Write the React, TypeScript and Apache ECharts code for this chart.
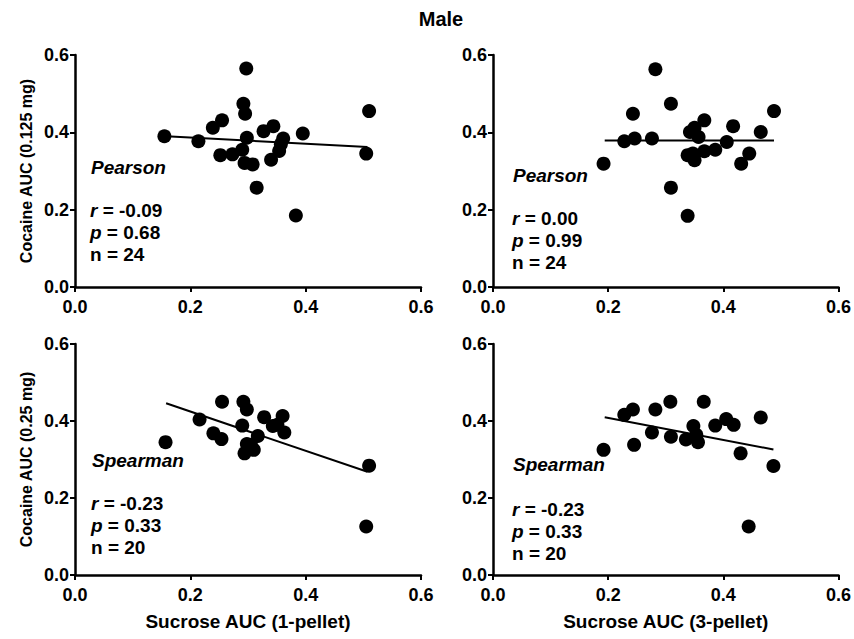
import React, { useEffect, useRef } from "react";
import * as echarts from "echarts";

// ---- Data ----
const p1X = [0.155, 0.214, 0.239, 0.255, 0.252, 0.273, 0.29, 0.297, 0.292, 0.295, 0.298, 0.294, 0.308, 0.315, 0.327, 0.344, 0.34, 0.354, 0.361, 0.357, 0.383, 0.395, 0.51, 0.505];
const p1Y = [0.39, 0.377, 0.412, 0.431, 0.341, 0.343, 0.355, 0.565, 0.474, 0.448, 0.386, 0.321, 0.317, 0.257, 0.403, 0.416, 0.329, 0.352, 0.384, 0.369, 0.185, 0.397, 0.455, 0.345];
const p1LineX = [0.158, 0.507];
const p1LineY = [0.39, 0.362];

const p2X = [0.192, 0.228, 0.243, 0.246, 0.276, 0.282, 0.309, 0.309, 0.338, 0.342, 0.35, 0.357, 0.338, 0.35, 0.367, 0.367, 0.386, 0.406, 0.417, 0.431, 0.445, 0.465, 0.488, 0.347];
const p2Y = [0.319, 0.377, 0.448, 0.384, 0.384, 0.563, 0.474, 0.257, 0.184, 0.401, 0.412, 0.388, 0.341, 0.328, 0.431, 0.351, 0.355, 0.375, 0.416, 0.319, 0.345, 0.401, 0.455, 0.345];
const p2LineX = [0.194, 0.488];
const p2LineY = [0.379, 0.379];

const p3X = [0.157, 0.216, 0.24, 0.255, 0.254, 0.292, 0.298, 0.29, 0.298, 0.294, 0.31, 0.317, 0.328, 0.343, 0.36, 0.363, 0.51, 0.505, 0.351, 0.305];
const p3Y = [0.345, 0.404, 0.368, 0.45, 0.353, 0.45, 0.43, 0.388, 0.34, 0.316, 0.325, 0.361, 0.41, 0.387, 0.413, 0.37, 0.284, 0.126, 0.39, 0.338];
const p3LineX = [0.158, 0.507];
const p3LineY = [0.446, 0.268];

const p4X = [0.192, 0.228, 0.243, 0.245, 0.276, 0.282, 0.308, 0.309, 0.335, 0.348, 0.353, 0.356, 0.366, 0.386, 0.405, 0.418, 0.43, 0.444, 0.465, 0.487];
const p4Y = [0.325, 0.416, 0.43, 0.338, 0.37, 0.43, 0.45, 0.359, 0.352, 0.387, 0.364, 0.345, 0.45, 0.388, 0.405, 0.39, 0.316, 0.126, 0.409, 0.283];
const p4LineX = [0.194, 0.487];
const p4LineY = [0.41, 0.326];

const tickLabels = ["0.0", "0.2", "0.4", "0.6"];
const yNames = ["Cocaine AUC (0.125 mg)", "Cocaine AUC (0.25 mg)"];
const xNames = ["Sucrose AUC (1-pellet)", "Sucrose AUC (3-pellet)"];
const methods = ["Pearson", "Pearson", "Spearman", "Spearman"];
const rVals = ["-0.09", "0.00", "-0.23", "-0.23"];
const pVals = ["0.68", "0.99", "0.33", "0.33"];
const nVals = ["24", "24", "20", "20"];

const FONT = "'Liberation Sans', Arial, Helvetica, sans-serif";

export default function App() {
  const ref = useRef<HTMLDivElement>(null);
  useEffect(() => {
    document.body.style.margin = "0";
    const chart = echarts.init(ref.current!, null, { renderer: "svg" });
    const grids = [
      { left: 75, top: 55, width: 346, height: 232 },
      { left: 493, top: 55, width: 346, height: 232 },
      { left: 75, top: 344, width: 346, height: 231 },
      { left: 493, top: 344, width: 346, height: 231 },
    ];
    const pts = [
      [p1X, p1Y],
      [p2X, p2Y],
      [p3X, p3Y],
      [p4X, p4Y],
    ];
    const lines = [
      [p1LineX, p1LineY],
      [p2LineX, p2LineY],
      [p3LineX, p3LineY],
      [p4LineX, p4LineY],
    ];
    const axisCommon = {
      min: 0,
      max: 0.6,
      interval: 0.2,
      splitLine: { show: false },
      axisLine: { show: true, lineStyle: { color: "#000", width: 2.5 } },
      axisTick: { show: true, length: 5, lineStyle: { color: "#000", width: 2 } },
      axisLabel: {
        color: "#000",
        fontFamily: FONT,
        fontWeight: "bold",
        fontSize: 18,
        formatter: (v: number) => tickLabels[Math.round(v / 0.2)] ?? v.toFixed(1),
      },
    };
    const xAxis = grids.map((_, i) => ({
      ...axisCommon,
      type: "value",
      gridIndex: i,
      axisLabel: { ...axisCommon.axisLabel, margin: 11 },
      name: i >= 2 ? xNames[i - 2] : "",
      nameLocation: "middle",
      nameGap: 37,
      nameTextStyle: { color: "#000", fontFamily: FONT, fontWeight: "bold", fontSize: 19 },
    }));
    const yAxis = grids.map((_, i) => ({
      ...axisCommon,
      type: "value",
      gridIndex: i,
      axisLabel: { ...axisCommon.axisLabel, margin: 6 },
      name: i % 2 === 0 ? yNames[i >> 1] : "",
      nameLocation: "middle",
      nameGap: 41,
      nameTextStyle: { color: "#000", fontFamily: FONT, fontWeight: "bold", fontSize: 16 },
    }));
    const series: any[] = [];
    pts.forEach(([xs, ys], i) => {
      series.push({
        type: "scatter",
        xAxisIndex: i,
        yAxisIndex: i,
        symbolSize: 14,
        itemStyle: { color: "#000", opacity: 1 },
        data: xs.map((x, j) => [x, ys[j]]),
        z: 3,
      });
    });
    lines.forEach(([xs, ys], i) => {
      series.push({
        type: "line",
        xAxisIndex: i,
        yAxisIndex: i,
        symbol: "none",
        lineStyle: { color: "#000", width: 2 },
        data: xs.map((x, j) => [x, ys[j]]),
        z: 2,
      });
    });
    const annoPos = [
      { x: 91, y: 167, dy: 43 },
      { x: 513, y: 175, dy: 43 },
      { x: 92, y: 460, dy: 43 },
      { x: 513, y: 464, dy: 45 },
    ];
    const rich = {
      i: { fontFamily: FONT, fontWeight: "bold", fontStyle: "italic", fontSize: 19, fill: "#000" },
      b: { fontFamily: FONT, fontWeight: "bold", fontSize: 19, fill: "#000" },
    };
    const graphic: any[] = [
      {
        type: "text",
        x: 441,
        y: 19,
        style: {
          text: "Male",
          fill: "#000",
          font: `bold 20px ${FONT}`,
          align: "center",
          verticalAlign: "middle",
        },
      },
    ];
    annoPos.forEach((p, i) => {
      graphic.push({
        type: "text",
        x: p.x,
        y: p.y,
        style: {
          text: methods[i],
          fill: "#000",
          font: `italic bold 19px ${FONT}`,
          align: "left",
          verticalAlign: "middle",
        },
      });
      const rows = [
        `{i|r}{b| = ${rVals[i]}}`,
        `{i|p}{b| = ${pVals[i]}}`,
        `{b|n = ${nVals[i]}}`,
      ];
      rows.forEach((t, k) => {
        graphic.push({
          type: "text",
          x: p.x - 1,
          y: p.y + p.dy + k * 22,
          style: { text: t, rich, align: "left", verticalAlign: "middle", fill: "#000" },
        });
      });
    });
    chart.setOption({
      animation: false,
      backgroundColor: "#fff",
      grid: grids,
      xAxis,
      yAxis,
      series,
      graphic,
    });
    return () => chart.dispose();
  }, []);
  return <div ref={ref} style={{ width: 854, height: 639 }} />;
}
